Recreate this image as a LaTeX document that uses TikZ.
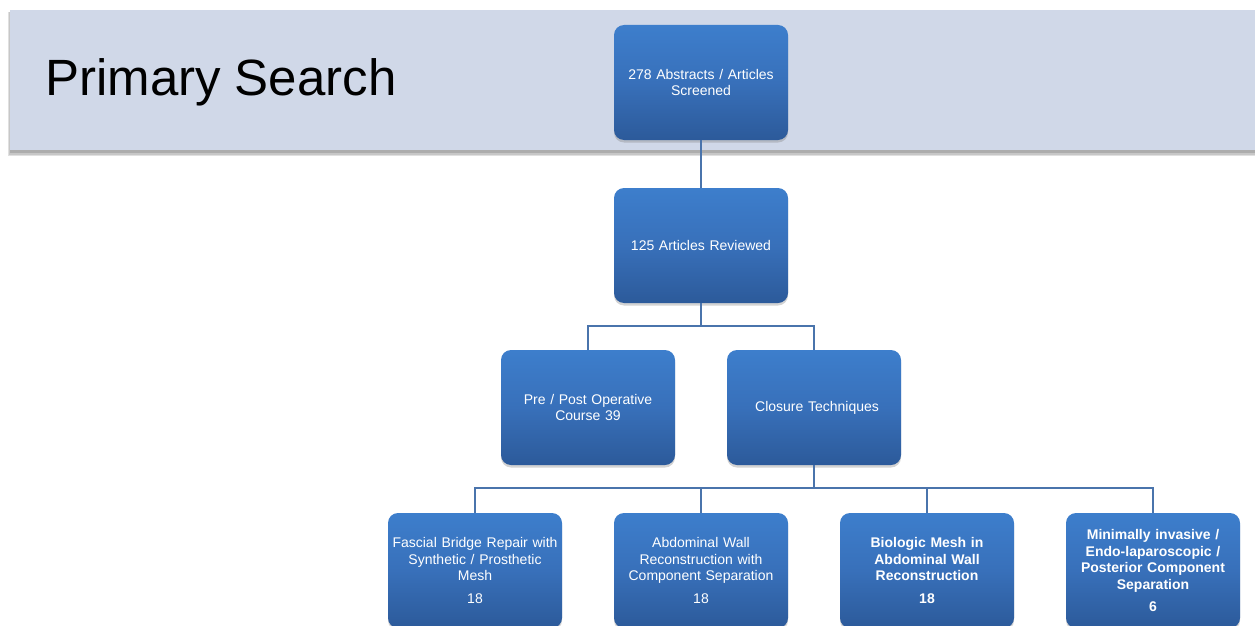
\documentclass[tikz,border=0pt]{standalone}
\usepackage{fontspec}
\setmainfont{Liberation Sans}
\usetikzlibrary{shadows,calc}
\definecolor{bannerfill}{HTML}{D0D8E8}
\definecolor{boxtop}{HTML}{3D7ECC}
\definecolor{boxmid}{HTML}{3870BA}
\definecolor{boxbot}{HTML}{2C5A9A}
\definecolor{linkcol}{HTML}{4A74AC}
\tikzset{
  stepbox/.style={rounded corners=10pt, minimum width=174pt, minimum height=115pt,
    text width=172pt, inner sep=1pt, align=center, text=white,
    top color=boxtop, bottom color=boxbot, middle color=boxmid, shading=axis,
    font=\fontsize{14}{16.5}\selectfont,
    drop shadow={opacity=0.35, shadow xshift=0pt, shadow yshift=-2.5pt}},
  link/.style={draw=linkcol, line width=1.6pt}
}
\begin{document}
\begin{tikzpicture}[x=1pt,y=-1pt]
\useasboundingbox (0,0) rectangle (1255,626);
\clip (0,0) rectangle (1255,626);
% banner with soft shadow
\fill[black!12] (8,12) rectangle (1260,156);
\fill[black!22] (9,12) rectangle (1260,154.5);
\fill[black!32] (10,12) rectangle (1260,152.5);
\fill[bannerfill] (10,10) rectangle (1260,150);
\node[anchor=base west, inner sep=0pt, font=\fontsize{51}{60}\selectfont] (title) at (45,95) {Primary Search};
% nodes
\node[stepbox] (top) at (701,82.5) {278 Abstracts / Articles\\Screened};
\node[stepbox] (rev) at (701,245.5) {125 Articles Reviewed};
\node[stepbox] (pre) at (588,407.5) {Pre / Post Operative\\Course 39};
\node[stepbox] (clo) at (814,407.5) {\hspace*{6pt}Closure Techniques};
\node[stepbox] (fas) at (475,570.5) {Fascial Bridge Repair with\\Synthetic / Prosthetic\\Mesh\\[6pt]18};
\node[stepbox] (abd) at (701,570.5) {Abdominal Wall\\Reconstruction with\\Component Separation\\[6pt]18};
\node[stepbox, font=\fontsize{14}{16.5}\selectfont\bfseries] (bio) at (927,570.5) {Biologic Mesh in\\Abdominal Wall\\Reconstruction\\[6pt]18};
\node[stepbox, font=\fontsize{14}{16.5}\selectfont\bfseries] (min) at (1153,570.5) {Minimally invasive /\\Endo-laparoscopic /\\Posterior Component\\Separation\\[6pt]6};
% connectors
\draw[link] (top.south) -- (rev.north);
\draw[link] (rev.south) -- ++(0,23) -| (pre.north);
\draw[link] (rev.south) -- ++(0,23) -| (clo.north);
\draw[link] (clo.south) -- ++(0,23) -| (fas.north);
\draw[link] (clo.south) -- ++(0,23) -| (abd.north);
\draw[link] (clo.south) -- ++(0,23) -| (bio.north);
\draw[link] (clo.south) -- ++(0,23) -| (min.north);
\end{tikzpicture}
\end{document}
